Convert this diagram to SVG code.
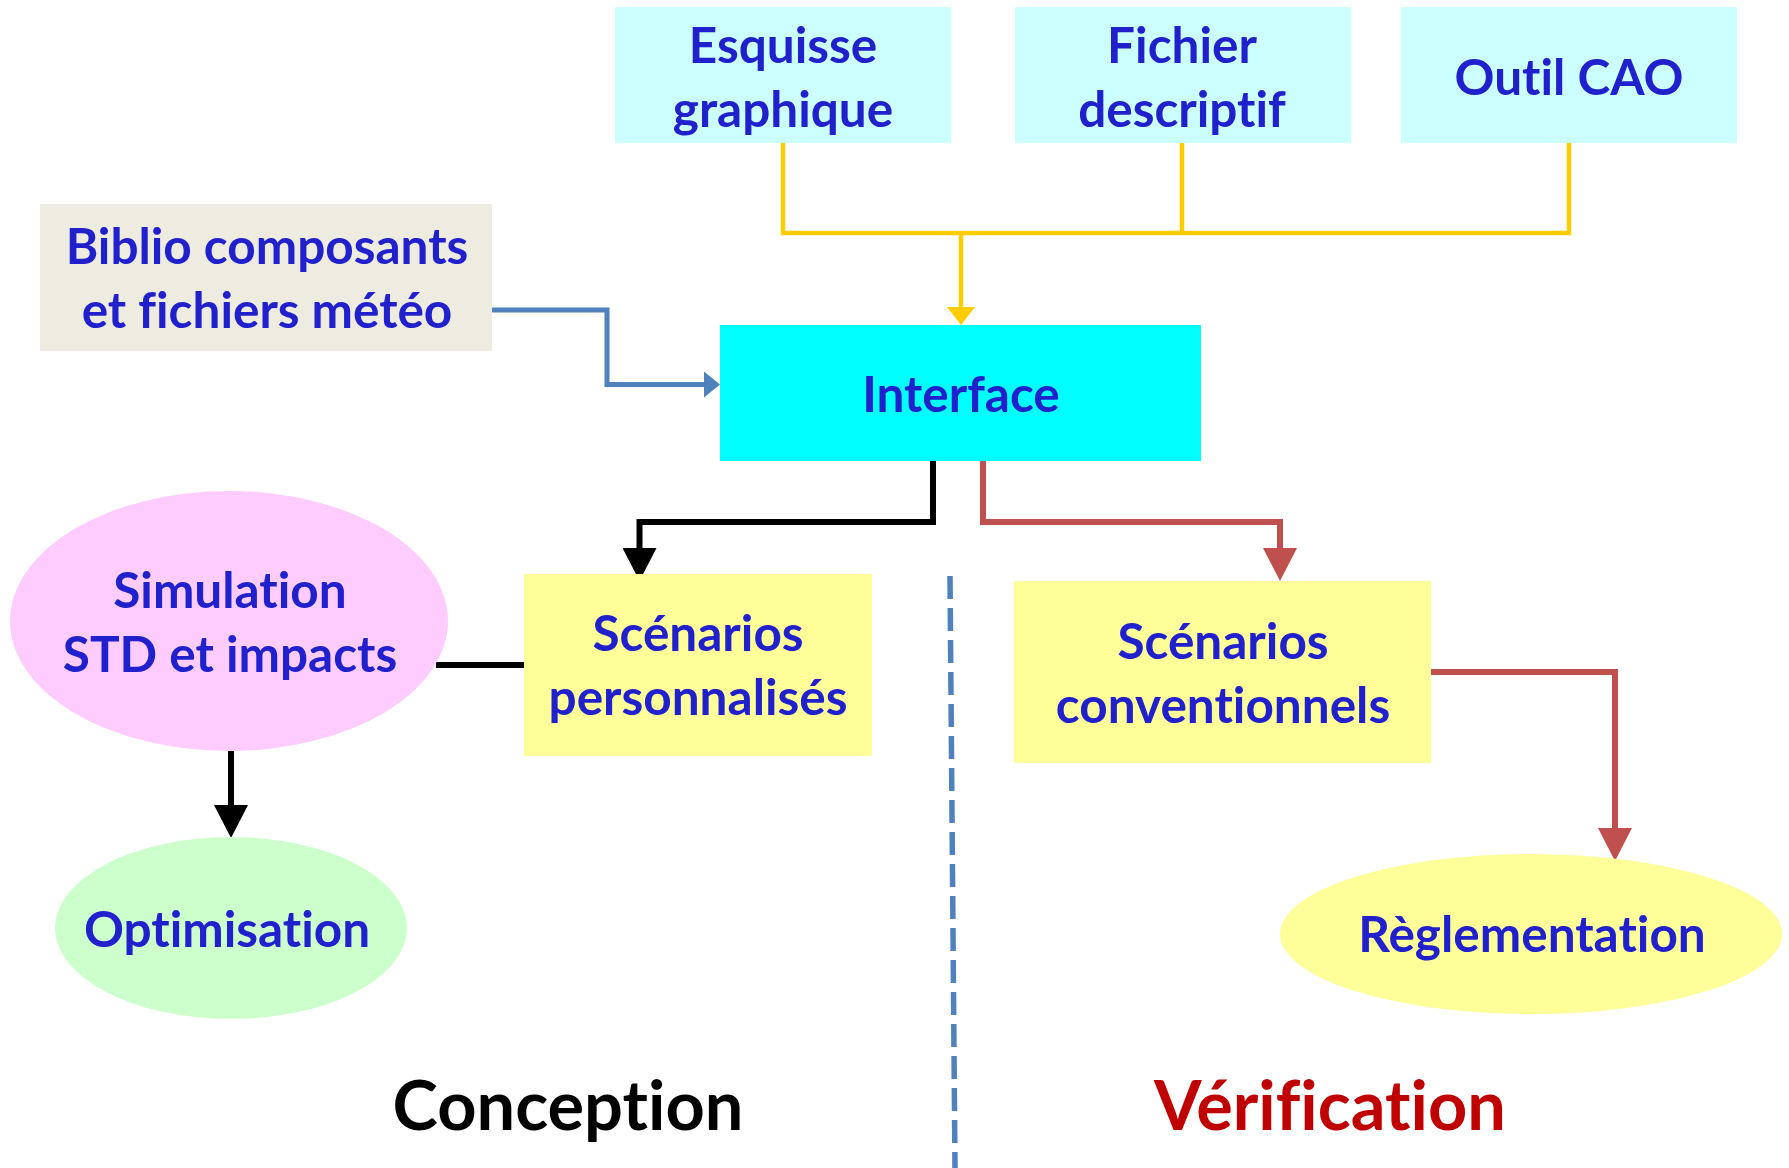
<svg xmlns="http://www.w3.org/2000/svg" width="1789" height="1168" viewBox="0 0 1789 1168">
  <style>
    .lbl { font-family: Lato, Carlito, "Liberation Sans", sans-serif; font-weight: bold; font-size: 49.5px; fill: #2020CC; text-anchor: middle; font-variant-ligatures: none; }
    .section { font-family: Lato, Carlito, "Liberation Sans", sans-serif; font-weight: bold; font-size: 68.5px; text-anchor: middle; font-variant-ligatures: none; }
    .wire { fill: none; stroke-linejoin: miter; }
    .gold { stroke: #FFCC00; stroke-width: 4.5; }
    .steel { stroke: #4F81BD; stroke-width: 5; }
    .ink { stroke: #000000; stroke-width: 6; }
    .rust { stroke: #C0504D; stroke-width: 6; }
  </style>
  <defs>
    <marker id="head-gold" markerUnits="userSpaceOnUse" viewBox="0 0 18 28" refX="0" refY="14" markerWidth="18" markerHeight="28" orient="auto">
      <path d="M0,0 L18,14 L0,28 z" fill="#FFCC00"/>
    </marker>
    <marker id="head-steel" markerUnits="userSpaceOnUse" viewBox="0 0 16 26" refX="0" refY="13" markerWidth="16" markerHeight="26" orient="auto">
      <path d="M0,0 L16,13 L0,26 z" fill="#4F81BD"/>
    </marker>
    <marker id="head-ink" markerUnits="userSpaceOnUse" viewBox="0 0 33 34" refX="0" refY="17" markerWidth="33" markerHeight="34" orient="auto">
      <path d="M0,0 L33,17 L0,34 z" fill="#000000"/>
    </marker>
    <marker id="head-rust" markerUnits="userSpaceOnUse" viewBox="0 0 33 34" refX="0" refY="17" markerWidth="33" markerHeight="34" orient="auto">
      <path d="M0,0 L33,17 L0,34 z" fill="#C0504D"/>
    </marker>
  </defs>

  <rect width="1789" height="1168" fill="#FFFFFF"/>

  <!-- connectors -->
  <g id="connectors">
    <path class="wire gold" d="M783,143 V233 H1569 V143"/>
    <path class="wire gold" d="M1182,143 V233"/>
    <path class="wire gold" d="M961,233 V307" marker-end="url(#head-gold)"/>
    <path class="wire steel" d="M492,310 H607 V384.5 H704" marker-end="url(#head-steel)"/>
    <path class="wire ink" d="M933,461 V522 H639.5 V548" marker-end="url(#head-ink)"/>
    <path class="wire rust" d="M983,461 V522 H1280 V548" marker-end="url(#head-rust)"/>
    <path class="wire ink" d="M436,665 H524"/>
    <path class="wire ink" d="M231,751 V805" marker-end="url(#head-ink)"/>
    <path class="wire rust" d="M1431,672 H1615 V828" marker-end="url(#head-rust)"/>
    <path class="wire" d="M950,576 L955,1168" stroke="#4F81BD" stroke-width="5.5" stroke-dasharray="23 9"/>
  </g>

  <!-- nodes -->
  <g id="esquisse">
    <rect x="615" y="7" width="336" height="136" fill="#CCFFFF"/>
    <text class="lbl" x="783" y="63">Esquisse</text>
    <text class="lbl" x="783" y="127">graphique</text>
  </g>
  <g id="fichier">
    <rect x="1015" y="7" width="336" height="136" fill="#CCFFFF"/>
    <text class="lbl" x="1182" y="63">Fichier</text>
    <text class="lbl" x="1182" y="127">descriptif</text>
  </g>
  <g id="outil-cao">
    <rect x="1401" y="7" width="336" height="136" fill="#CCFFFF"/>
    <text class="lbl" x="1569" y="95">Outil CAO</text>
  </g>
  <g id="biblio">
    <rect x="40" y="204" width="452" height="147" fill="#EEECE1"/>
    <text class="lbl" x="267" y="264">Biblio composants</text>
    <text class="lbl" x="267" y="328">et fichiers météo</text>
  </g>
  <g id="interface">
    <rect x="720" y="325" width="481" height="136" fill="#00FFFF"/>
    <text class="lbl" x="961" y="412">Interface</text>
  </g>
  <g id="simulation">
    <ellipse cx="229" cy="621" rx="219" ry="130" fill="#FFCCFF"/>
    <text class="lbl" x="230" y="608">Simulation</text>
    <text class="lbl" x="230" y="672">STD et impacts</text>
  </g>
  <g id="scenarios-perso">
    <rect x="524" y="574" width="348" height="182" fill="#FFFF99"/>
    <text class="lbl" x="698" y="651">Scénarios</text>
    <text class="lbl" x="698" y="715">personnalisés</text>
  </g>
  <g id="scenarios-conv">
    <rect x="1014" y="581" width="417" height="182" fill="#FFFF99"/>
    <text class="lbl" x="1223" y="659">Scénarios</text>
    <text class="lbl" x="1223" y="723">conventionnels</text>
  </g>
  <g id="optimisation">
    <ellipse cx="231" cy="928" rx="176" ry="91" fill="#CCFFCC"/>
    <text class="lbl" x="227" y="947">Optimisation</text>
  </g>
  <g id="reglementation">
    <ellipse cx="1531" cy="934" rx="251" ry="80" fill="#FFFF99"/>
    <text class="lbl" x="1532" y="952">Règlementation</text>
  </g>

  <!-- section titles -->
  <text class="section" x="568" y="1130" fill="#000000">Conception</text>
  <text class="section" x="1330" y="1130" fill="#C00000">Vérification</text>
</svg>
